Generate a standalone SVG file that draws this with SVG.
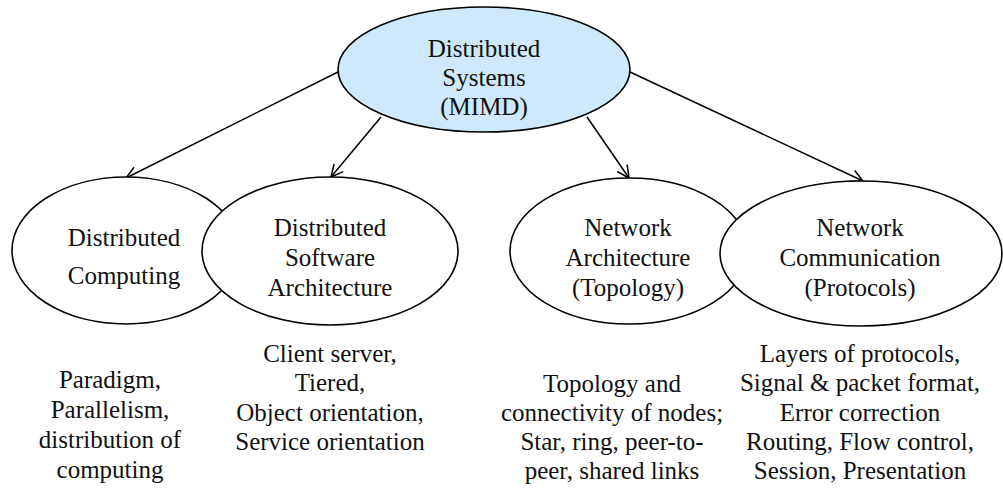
<svg xmlns="http://www.w3.org/2000/svg" width="1003" height="504" viewBox="0 0 1003 504" font-family="Liberation Serif, Times New Roman, DejaVu Serif, serif">
<style>
.node{stroke:#000;stroke-width:1.6;fill:#fff}
.root{fill:#cde9fb}
text{font-family:'Liberation Serif','Times New Roman','DejaVu Serif',serif;font-size:25px;fill:#111;text-anchor:middle}
.edge{stroke:#000;stroke-width:1.5;fill:none;marker-end:url(#arr)}
</style>
<defs>
<marker id="arr" markerUnits="userSpaceOnUse" markerWidth="16" markerHeight="16" viewBox="0 0 16 16" refX="14" refY="8" orient="auto">
<path d="M2,2 L14,8 L2,14" fill="none" stroke="#000" stroke-width="1.5"/>
</marker>
</defs>
<g id="connectors">
<line class="edge" x1="338" y1="72" x2="126" y2="178"/>
<line class="edge" x1="381" y1="117" x2="331" y2="177"/>
<line class="edge" x1="587" y1="117" x2="629" y2="178"/>
<line class="edge" x1="630" y1="72" x2="863" y2="181"/>
</g>
<g id="root">
<ellipse class="node root" cx="484" cy="69.5" rx="146" ry="62.5"/>
<text x="484" y="57">Distributed</text>
<text x="484" y="86">Systems</text>
<text x="484" y="115">(MIMD)</text>
</g>
<g id="dist-computing">
<ellipse class="node" cx="126" cy="250.5" rx="114" ry="73.5"/>
<text x="124" y="246">Distributed</text>
<text x="124" y="284">Computing</text>
</g>
<g id="dist-software">
<ellipse class="node" cx="330" cy="251" rx="128" ry="74"/>
<text x="330" y="236">Distributed</text>
<text x="330" y="266">Software</text>
<text x="330" y="296">Architecture</text>
</g>
<g id="net-arch">
<ellipse class="node" cx="629" cy="251" rx="119" ry="73"/>
<text x="628" y="236">Network</text>
<text x="628" y="266">Architecture</text>
<text x="628" y="296">(Topology)</text>
</g>
<g id="net-comm">
<ellipse class="node" cx="861" cy="253.5" rx="141" ry="72.5"/>
<text x="860" y="236">Network</text>
<text x="860" y="266">Communication</text>
<text x="860" y="296">(Protocols)</text>
</g>
<g id="desc-computing">
<text x="110" y="388">Paradigm,</text>
<text x="110" y="418">Parallelism,</text>
<text x="110" y="448">distribution of</text>
<text x="110" y="478">computing</text>
</g>
<g id="desc-software">
<text x="330" y="362">Client server,</text>
<text x="330" y="391">Tiered,</text>
<text x="330" y="421">Object orientation,</text>
<text x="330" y="450">Service orientation</text>
</g>
<g id="desc-topology">
<text x="612" y="392">Topology and</text>
<text x="612" y="421">connectivity of nodes;</text>
<text x="612" y="450">Star, ring, peer-to-</text>
<text x="612" y="479">peer, shared links</text>
</g>
<g id="desc-protocols">
<text x="860" y="362">Layers of protocols,</text>
<text x="860" y="391">Signal &amp; packet format,</text>
<text x="860" y="421">Error correction</text>
<text x="860" y="450">Routing, Flow control,</text>
<text x="860" y="479">Session, Presentation</text>
</g>
</svg>
